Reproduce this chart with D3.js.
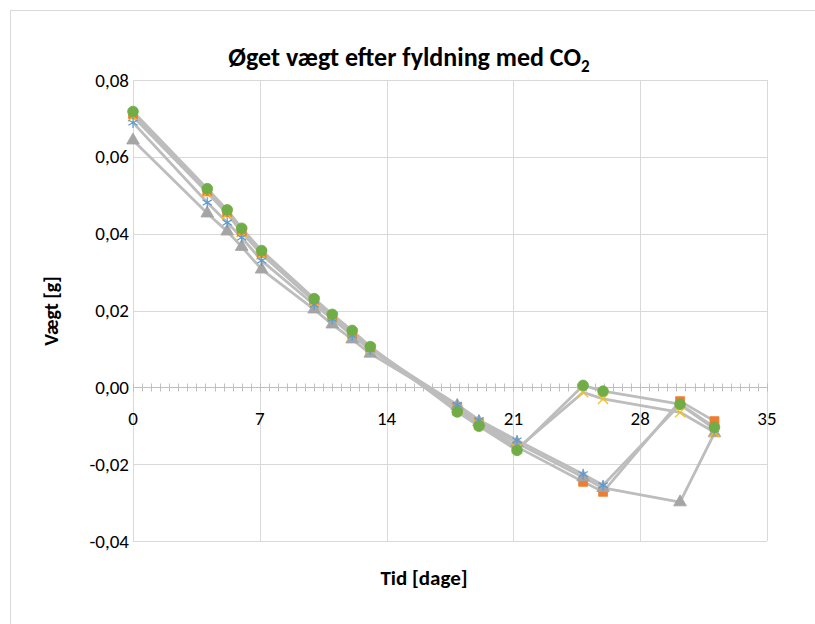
<!DOCTYPE html>
<html><head><meta charset="utf-8">
<script src="https://cdn.jsdelivr.net/npm/d3@7"></script>
<style>body{margin:0;background:#fff}svg{display:block}</style>
</head><body>
<script>
const days   = [0, 4.1, 5.2, 6.0, 7.1, 10.0, 11.0, 12.1, 13.1, 17.9, 19.1, 21.2, 24.85, 25.95, 30.2, 32.1];
const orange = [0.0711, 0.0510, 0.0456, 0.0408, 0.0350, 0.0226, 0.0186, 0.0143, 0.0103, -0.0052, -0.0093, -0.0155, -0.0246, -0.0272, -0.0036, -0.0088];
const gray   = [0.0643, 0.0453, 0.0406, 0.0366, 0.0307, 0.0203, 0.0164, 0.0125, 0.0088, -0.0048, -0.0090, -0.0145, -0.0234, -0.0262, -0.0299, -0.0119];
const yellow = [0.0705, 0.0507, 0.0452, 0.0404, 0.0346, 0.0224, 0.0183, 0.0140, 0.0100, -0.0060, -0.0098, -0.0160, -0.0013, -0.0030, -0.0065, -0.0117];
const blue   = [0.0689, 0.0481, 0.0429, 0.0390, 0.0330, 0.0215, 0.0178, 0.0135, 0.0098, -0.0045, -0.0085, -0.0138, -0.0226, -0.0255, -0.0045, -0.0108];
const green  = [0.0718, 0.0517, 0.0462, 0.0414, 0.0356, 0.0231, 0.0190, 0.0148, 0.0106, -0.0064, -0.0101, -0.0164, 0.0005, -0.0010, -0.0044, -0.0104];
const xTicks = [0, 7, 14, 21, 28, 35];
const yTicks = [-0.04, -0.02, 0, 0.02, 0.04, 0.06, 0.08];
const title = "Øget vægt efter fyldning med CO";
const xTitle = "Tid [dage]";
const yTitle = "Vægt [g]";

const series = [
  {name:"s2", values:orange, color:"#ED7D31", shape:"square"},
  {name:"s3", values:gray,   color:"#A5A5A5", shape:"triangle"},
  {name:"s4", values:yellow, color:"#FFC000", shape:"x"},
  {name:"s5", values:blue,   color:"#5B9BD5", shape:"star"},
  {name:"s6", values:green,  color:"#70AD47", shape:"circle"}
];

const W = 815, H = 624;
const svg = d3.select("body").append("svg").attr("width", W).attr("height", H);
const font = "Carlito, Lato, 'Open Sans', sans-serif";

svg.append("rect").attr("x", 10.5).attr("y", 10.5).attr("width", W + 10).attr("height", H + 10)
  .attr("fill", "#fff").attr("stroke", "#d9d9d9").attr("stroke-width", 1);

const x = d3.scaleLinear().domain([0, 35]).range([133, 767]);
const y = d3.scaleLinear().domain([-0.04, 0.08]).range([541, 80]);
const loc = d3.formatLocale({decimal: ",", thousands: ".", grouping: [3], currency: ["", ""], minus: "-"});
const fmt = loc.format(".2f");

// gridlines
const g = svg.append("g");
g.selectAll(".hg").data(yTicks).join("line")
  .attr("x1", x(0)).attr("x2", x(35)).attr("y1", d => Math.round(y(d)) + 0.5).attr("y2", d => Math.round(y(d)) + 0.5)
  .attr("stroke", "#d9d9d9").attr("stroke-width", 1);
g.selectAll(".vg").data(xTicks).join("line")
  .attr("y1", y(0.08)).attr("y2", y(-0.04)).attr("x1", d => Math.round(x(d)) + 0.5).attr("x2", d => Math.round(x(d)) + 0.5)
  .attr("stroke", "#d9d9d9").attr("stroke-width", 1);

// x axis along zero with minor ticks
const minor = d3.range(0, 35.01, 0.5);
const y0 = Math.round(y(0)) + 0.5;
g.append("line").attr("x1", x(0)).attr("x2", x(35)).attr("y1", y0).attr("y2", y0)
  .attr("stroke", "#bfbfbf").attr("stroke-width", 1);
g.selectAll(".mt").data(minor).join("line")
  .attr("x1", d => Math.round(x(d)) + 0.5).attr("x2", d => Math.round(x(d)) + 0.5)
  .attr("y1", y0 - 4).attr("y2", y0 + 4).attr("stroke", "#bfbfbf").attr("stroke-width", 1);

// tick labels
svg.selectAll(".yl").data(yTicks).join("text")
  .attr("x", 129).attr("y", d => y(d)).attr("dy", "0.35em").attr("text-anchor", "end")
  .attr("font-family", font).attr("font-size", 19).attr("fill", "#000")
  .text(d => fmt(d));
svg.selectAll(".xl").data(xTicks).join("text")
  .attr("x", d => x(d)).attr("y", 418).attr("dy", "0.35em").attr("text-anchor", "middle")
  .attr("font-family", font).attr("font-size", 19).attr("fill", "#000")
  .text(d => d);

// titles
const t = svg.append("text").attr("x", 409).attr("y", 66).attr("text-anchor", "middle")
  .attr("font-family", font).attr("font-size", 26).attr("font-weight", "bold").attr("fill", "#000");
t.append("tspan").text(title);
t.append("tspan").attr("font-size", 17).attr("dy", 6).text("2");
svg.append("text").attr("x", 424).attr("y", 585).attr("text-anchor", "middle")
  .attr("font-family", font).attr("font-size", 21).attr("font-weight", "bold").text(xTitle);
svg.append("text").attr("transform", "translate(58,311) rotate(-90)").attr("text-anchor", "middle")
  .attr("font-family", font).attr("font-size", 20).attr("font-weight", "bold").text(yTitle);

// lines
const line = d3.line().x((d, i) => x(days[i])).y(d => y(d));
series.forEach(s => {
  svg.append("path").attr("d", line(s.values)).attr("fill", "none")
    .attr("stroke", "#bdbdbd").attr("stroke-width", 2.8).attr("stroke-linejoin", "round");
});

// markers
const sym = {
  square: d3.symbol().type(d3.symbolSquare).size(80),
  triangle: d3.symbol().type(d3.symbolTriangle).size(70),
  circle: d3.symbol().type(d3.symbolCircle).size(90),
  x: d3.symbol().type(d3.symbolX).size(70),
  star: d3.symbol().type(d3.symbolAsterisk).size(80)
};
series.forEach(s => {
  const stroked = (s.shape === "x" || s.shape === "star");
  svg.append("g").selectAll("path").data(s.values).join("path")
    .attr("transform", (d, i) => `translate(${x(days[i])},${y(d)})`)
    .attr("d", sym[s.shape]())
    .attr("fill", stroked ? "none" : s.color)
    .attr("stroke", s.color).attr("stroke-width", stroked ? 1.2 : 0.8);
});
</script>
</body></html>
